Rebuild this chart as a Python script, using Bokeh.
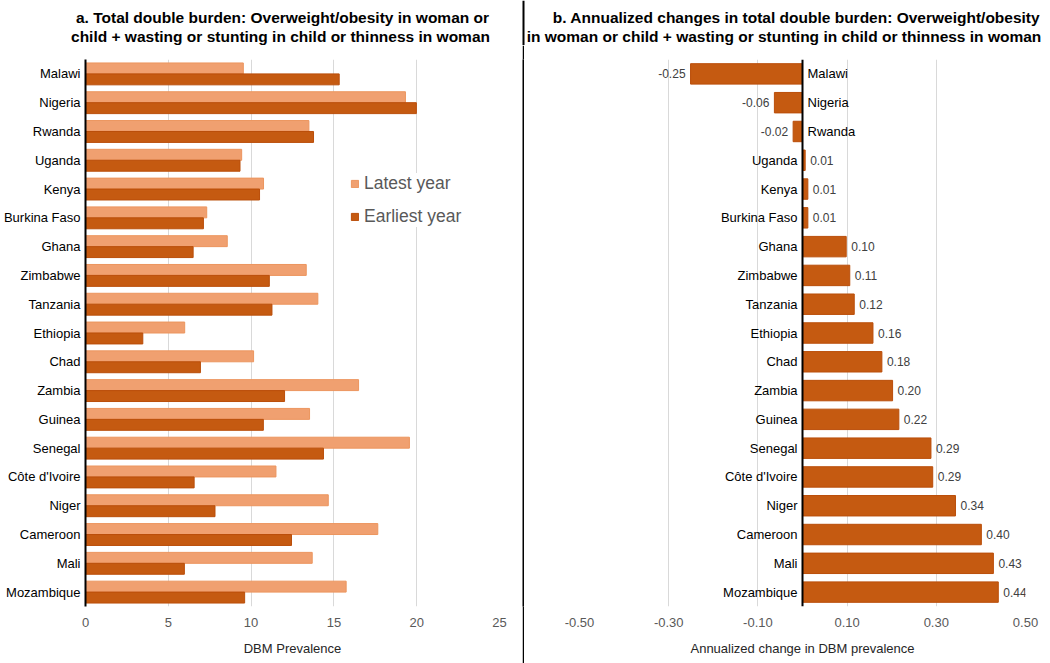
from bokeh.plotting import figure
from bokeh.models import (ColumnDataSource, FactorRange, Range1d, FixedTicker,
                          Legend, LegendItem, Span, CustomJSTickFormatter)
from bokeh.transform import dodge
from bokeh.layouts import row, column
from bokeh.core.properties import value
from bokeh.embed import file_html
from bokeh.resources import INLINE

# ---------------- data ----------------
countries = ["Malawi", "Nigeria", "Rwanda", "Uganda", "Kenya", "Burkina Faso",
             "Ghana", "Zimbabwe", "Tanzania", "Ethiopia", "Chad", "Zambia",
             "Guinea", "Senegal", "Côte d'Ivoire", "Niger", "Cameroon", "Mali",
             "Mozambique"]
latest_year = [9.53, 19.32, 13.49, 9.43, 10.75, 7.32, 8.56, 13.33, 14.03, 5.99,
               10.15, 16.49, 13.53, 19.56, 11.50, 14.66, 17.65, 13.69, 15.74]
earliest_year = [15.32, 19.98, 13.77, 9.33, 10.51, 7.12, 6.50, 11.10, 11.26, 3.46,
                 6.94, 12.02, 10.74, 14.37, 6.56, 7.82, 12.44, 5.97, 9.61]
annual_change = [-0.251, -0.063, -0.021, 0.006, 0.012, 0.012, 0.098, 0.106, 0.116,
                 0.158, 0.178, 0.202, 0.216, 0.288, 0.292, 0.343, 0.401, 0.428, 0.439]
left_ticks = [0, 5, 10, 15, 20, 25]
right_ticks = [-0.5, -0.3, -0.1, 0.1, 0.3, 0.5]

title_lines = ["a. Total double burden: Overweight/obesity in woman or",
               "child + wasting or stunting in child or thinness in woman",
               "b. Annualized changes in total double burden: Overweight/obesity",
               "in woman or child + wasting or stunting in child or thinness in woman"]

# ---------------- style ----------------
FONT = "Liberation Sans"
LIGHT = "#F0A070"
LIGHT_LINE = "#EC955E"
DARK = "#C55A11"
DARK_LINE = "#BA4E0A"
GRID = "#D9D9D9"
TICK = "#595959"
W = 1050
TH = 45          # title strip height
H = 663 - TH     # chart height
LW, RW = 522, 526


def style_xaxis(p, label):
    p.xaxis.axis_line_color = None
    p.xaxis.major_tick_line_color = None
    p.xaxis.minor_tick_line_color = None
    p.xaxis.major_tick_out = 0
    p.xaxis.major_tick_in = 0
    p.xaxis.major_label_standoff = 11
    p.xaxis.major_label_text_font = FONT
    p.xaxis.major_label_text_font_size = "13px"
    p.xaxis.major_label_text_color = TICK
    p.xaxis.axis_label = label
    p.xaxis.axis_label_text_font = FONT
    p.xaxis.axis_label_text_font_size = "13px"
    p.xaxis.axis_label_text_font_style = "normal"
    p.xaxis.axis_label_text_color = "#262626"
    p.xaxis.axis_label_standoff = 11


factors = list(reversed(countries))

# ---------------- title strip (page-pixel coordinates) ----------------
tfig = figure(width=W, height=TH, output_backend="svg", toolbar_location=None,
              x_range=Range1d(0, W), y_range=Range1d(TH, 0),
              x_axis_type=None, y_axis_type=None,
              min_border_left=0, min_border_right=0, min_border_top=0,
              min_border_bottom=0)
tfig.grid.visible = False
tfig.outline_line_color = None
tfig.text(x=[282, 280, 796, 783.5], y=[16.5, 35.5, 16.5, 35.5], text=title_lines,
          text_align="center", text_baseline="middle", text_font=value(FONT),
          text_font_style="bold", text_font_size="15.5px", text_color="black")
tfig.add_layout(Span(location=523, dimension="height", line_color="black", line_width=2))

# ---------------- panel a ----------------
src_a = ColumnDataSource(dict(country=countries, latest=latest_year, earliest=earliest_year))

p1 = figure(width=LW, height=H, output_backend="svg", toolbar_location=None,
            y_range=FactorRange(factors=factors), x_range=Range1d(0, 25),
            min_border_left=85, min_border_right=23, min_border_top=59 - TH,
            min_border_bottom=57)
p1.outline_line_color = None

r_late = p1.hbar(y=dodge("country", 0.19, range=p1.y_range), left=0, right="latest",
                 height=0.38, fill_color=LIGHT, line_color=LIGHT_LINE, line_width=1,
                 source=src_a)
r_early = p1.hbar(y=dodge("country", -0.19, range=p1.y_range), left=0, right="earliest",
                  height=0.38, fill_color=DARK, line_color=DARK_LINE, line_width=1,
                  source=src_a)

p1.xaxis.ticker = FixedTicker(ticks=left_ticks)
p1.xgrid.ticker = FixedTicker(ticks=left_ticks)
p1.xgrid.grid_line_color = GRID
p1.ygrid.grid_line_color = None
style_xaxis(p1, "DBM Prevalence")

p1.yaxis.axis_line_color = "black"
p1.yaxis.axis_line_width = 2
p1.yaxis.major_tick_line_color = None
p1.yaxis.major_tick_out = 0
p1.yaxis.major_tick_in = 0
p1.yaxis.major_label_standoff = 5
p1.yaxis.major_label_text_font = FONT
p1.yaxis.major_label_text_font_size = "13px"
p1.yaxis.major_label_text_color = "black"

legend = Legend(items=[LegendItem(label="Latest year", renderers=[r_late]),
                       LegendItem(label="Earliest year", renderers=[r_early])],
                location=(265, 379), margin=0, padding=8, spacing=12,
                glyph_width=9, glyph_height=9, label_height=20, label_standoff=5,
                label_text_font=FONT, label_text_font_size="17.5px",
                label_text_color=TICK, border_line_color=None,
                background_fill_color="white", background_fill_alpha=1.0)
p1.add_layout(legend)

# ---------------- separator ----------------
sep = figure(width=2, height=H, output_backend="svg", toolbar_location=None,
             min_border=0, background_fill_color="black", border_fill_color="black",
             x_axis_type=None, y_axis_type=None)
sep.grid.visible = False
sep.outline_line_color = None
sep.scatter([0], [0], size=0, alpha=0)

# ---------------- panel b ----------------
pos = [i for i, v in enumerate(annual_change) if v >= 0]
neg = [i for i, v in enumerate(annual_change) if v < 0]
labels = [f"{v:.2f}" for v in annual_change]

src_b = ColumnDataSource(dict(country=countries, change=annual_change, label=labels))
src_pos = ColumnDataSource(dict(country=[countries[i] for i in pos],
                                change=[annual_change[i] for i in pos],
                                label=[labels[i] for i in pos]))
src_neg = ColumnDataSource(dict(country=[countries[i] for i in neg],
                                change=[annual_change[i] for i in neg],
                                label=[labels[i] for i in neg]))

p2 = figure(width=RW, height=H, output_backend="svg", toolbar_location=None,
            y_range=FactorRange(factors=factors), x_range=Range1d(-0.5, 0.5),
            min_border_left=55, min_border_right=25, min_border_top=59 - TH,
            min_border_bottom=57)
p2.outline_line_color = None

p2.hbar(y="country", left=0, right="change", height=0.71, fill_color=DARK,
        line_color=DARK_LINE, line_width=1, source=src_b)

p2.add_layout(Span(location=0, dimension="height", line_color="black", line_width=2))

# country names
p2.text(x=0, y="country", text="country", source=src_pos, x_offset=-5,
        text_align="right", text_baseline="middle", text_font=value(FONT),
        text_font_size="13px", text_color="black")
p2.text(x=0, y="country", text="country", source=src_neg, x_offset=5,
        text_align="left", text_baseline="middle", text_font=value(FONT),
        text_font_size="13px", text_color="black")
# value labels
p2.text(x="change", y="country", text="label", source=src_pos, x_offset=5,
        text_align="left", text_baseline="middle", text_font=value(FONT),
        text_font_size="12px", text_color="#404040")
p2.text(x="change", y="country", text="label", source=src_neg, x_offset=-5,
        text_align="right", text_baseline="middle", text_font=value(FONT),
        text_font_size="12px", text_color="#404040")

p2.xaxis.ticker = FixedTicker(ticks=right_ticks)
p2.xgrid.ticker = FixedTicker(ticks=right_ticks)
p2.xaxis.formatter = CustomJSTickFormatter(code="return tick.toFixed(2);")
p2.xgrid.grid_line_color = GRID
p2.ygrid.grid_line_color = None
p2.yaxis.visible = False
style_xaxis(p2, "Annualized change in DBM prevalence")

layout = column(tfig, row(p1, sep, p2, spacing=0), spacing=0)
open("out.html", "w").write(file_html(layout, INLINE))
